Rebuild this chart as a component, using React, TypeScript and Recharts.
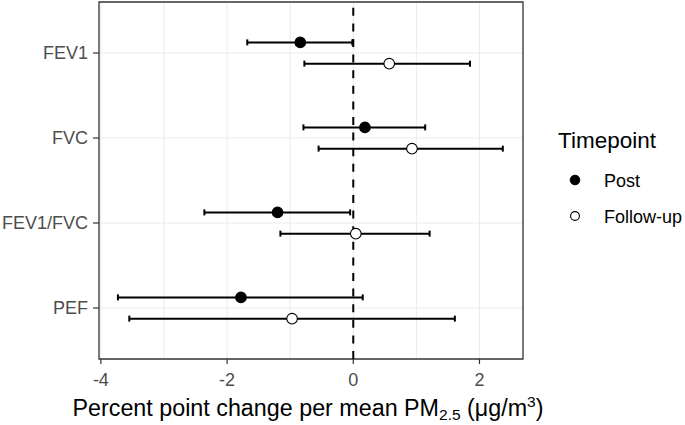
import React from "react";
import {
  ScatterChart, Scatter, XAxis, YAxis, CartesianGrid, ErrorBar,
  ReferenceLine, ReferenceArea,
} from "recharts";

const outcomes = ["FEV1", "FVC", "FEV1/FVC", "PEF"];
const xTicks = [-4, -2, 0, 2];
const gridX = [-4, -3, -2, -1, 0, 1, 2];

// Post
const postEst = [-0.84, 0.185, -1.2, -1.78];
const postLow = [-1.68, -0.79, -2.36, -3.73];
const postHigh = [-0.015, 1.14, -0.05, 0.15];
// Follow-up
const fuEst = [0.57, 0.93, 0.04, -0.97];
const fuLow = [-0.775, -0.55, -1.155, -3.55];
const fuHigh = [1.85, 2.37, 1.21, 1.61];

const X_DOMAIN: [number, number] = [-4.03, 2.69];
const Y_DOMAIN: [number, number] = [0.4, 4.6];
const DODGE = 0.125;

const FONT = "'Liberation Sans', Arial, Helvetica, sans-serif";

// FEV1 on top -> position 4
const pos = (i: number) => outcomes.length - i;

const postData = outcomes.map((name, i) => ({
  name,
  x: postEst[i],
  y: pos(i) + DODGE,
  err: [postEst[i] - postLow[i], postHigh[i] - postEst[i]],
}));

const fuData = outcomes.map((name, i) => ({
  name,
  x: fuEst[i],
  y: pos(i) - DODGE,
  err: [fuEst[i] - fuLow[i], fuHigh[i] - fuEst[i]],
}));

const dot = (fill: string) => (p: any) => (
  <circle cx={p.cx} cy={p.cy} r={5.3} fill={fill} stroke="#000" strokeWidth={1.1} />
);

export default function App() {
  return (
    <div style={{ position: "absolute", left: 0, top: 0, width: 685, height: 425, background: "#fff" }}>
      <ScatterChart width={685} height={425} margin={{ top: 2, right: 162, bottom: 36, left: 0 }}>
        <CartesianGrid
          stroke="#ebebeb"
          strokeWidth={1}
          verticalValues={gridX}
          horizontalValues={[1, 2, 3, 4]}
        />
        <XAxis
          type="number"
          dataKey="x"
          domain={X_DOMAIN}
          ticks={xTicks}
          allowDataOverflow
          height={30}
          axisLine={false}
          tickSize={5}
          tickMargin={9}
          tickLine={{ stroke: "#333", strokeWidth: 1.2 }}
          tick={{ fill: "#4d4d4d", fontSize: 18, fontFamily: FONT }}
        />
        <YAxis
          type="number"
          dataKey="y"
          domain={Y_DOMAIN}
          ticks={[1, 2, 3, 4]}
          allowDataOverflow
          width={99}
          axisLine={false}
          tickSize={6}
          tickMargin={5}
          tickLine={{ stroke: "#333", strokeWidth: 1.2 }}
          tick={{ fill: "#4d4d4d", fontSize: 18, fontFamily: FONT }}
          tickFormatter={(v: number) => outcomes[outcomes.length - v] ?? ""}
        />
        <ReferenceArea
          x1={X_DOMAIN[0]}
          x2={X_DOMAIN[1]}
          y1={Y_DOMAIN[0]}
          y2={Y_DOMAIN[1]}
          fill="none"
          fillOpacity={0}
          stroke="#333"
          strokeWidth={1.3}
          ifOverflow="visible"
        />
        <ReferenceLine x={0} stroke="#000" strokeWidth={2} strokeDasharray="8 7.6" />
        <Scatter data={postData} shape={dot("#000")} isAnimationActive={false}>
          <ErrorBar dataKey="err" direction="x" width={3} stroke="#000" strokeWidth={2} />
        </Scatter>
        <Scatter data={fuData} shape={dot("#fff")} isAnimationActive={false}>
          <ErrorBar dataKey="err" direction="x" width={3} stroke="#000" strokeWidth={2} />
        </Scatter>
      </ScatterChart>

      <svg
        width={685}
        height={425}
        style={{ position: "absolute", left: 0, top: 0, pointerEvents: "none" }}
        fontFamily={FONT}
      >
        {/* x axis title */}
        <text x={308} y={416} textAnchor="middle" fontSize={23.3} fill="#000">
          Percent point change per mean PM
          <tspan fontSize={15.5} dy={4}>2.5</tspan>
          <tspan fontSize={23.3} dy={-4}> (μg/m</tspan>
          <tspan fontSize={15.5} dy={-9}>3</tspan>
          <tspan fontSize={23.3} dy={9}>)</tspan>
        </text>

        {/* legend */}
        <text x={558} y={148} fontSize={22.5} fill="#000">Timepoint</text>
        <circle cx={575} cy={180} r={4.8} fill="#000" stroke="#000" strokeWidth={1} />
        <text x={604} y={186.5} fontSize={18} fill="#000">Post</text>
        <circle cx={575} cy={216} r={4.4} fill="#fff" stroke="#000" strokeWidth={1.1} />
        <text x={604} y={222.5} fontSize={18} fill="#000">Follow-up</text>
      </svg>
    </div>
  );
}
